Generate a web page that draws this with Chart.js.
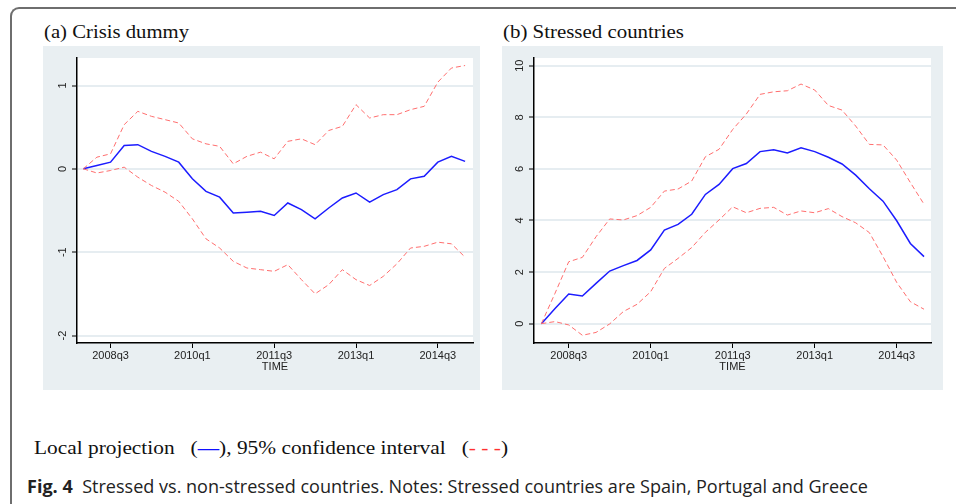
<!DOCTYPE html>
<html>
<head>
<meta charset="utf-8">
<script src="https://cdn.jsdelivr.net/npm/chart.js@4.4.1/dist/chart.umd.min.js"></script>
<style>
  body { margin: 0; width: 956px; height: 504px; background: #fff; position: relative; overflow: hidden; }
  .frame { position: absolute; left: 10px; top: 7px; width: 1000px; height: 600px;
           border-top: 2px solid #6e6e6e; border-left: 2px solid #6e6e6e; border-top-left-radius: 9px; }
  .panel { position: absolute; top: 46px; height: 344px; background: #e9eff2; }
  .panel canvas { display: block; }
  .txt { position: absolute; white-space: pre; transform-origin: left center; color: #111; }
  .serif { font-family: "Liberation Serif", "DejaVu Serif", serif; }
  .title { top: 21px; font-size: 19px; }
  .legend { left: 34px; top: 438px; font-size: 18px; }
  .caption { left: 27px; top: 474px; font-size: 18px; font-family: "Liberation Sans Narrow", "Open Sans", sans-serif; color: #222; }
</style>
</head>
<body>
<div class="frame"></div>

<div class="txt serif title" id="titleA" style="left:44px">(a) Crisis dummy</div>
<div class="txt serif title" id="titleB" style="left:503px">(b) Stressed countries</div>

<div class="panel" style="left:43px;width:437px"><canvas id="chartA" width="437" height="344"></canvas></div>
<div class="panel" style="left:502px;width:441px"><canvas id="chartB" width="441" height="344"></canvas></div>

<div class="txt serif legend" id="legend">Local projection   (<span style="color:#1010ff;font-weight:bold">—</span>), 95% confidence interval   (<span style="color:#ff3030">- - -</span>)</div>
<div class="txt caption" id="caption"><b>Fig. 4</b>  Stressed vs. non-stressed countries. Notes: Stressed countries are Spain, Portugal and Greece</div>

<script>
// 季度标签 2008q1 - 2015q1
const quarters = ['2008q1', '2008q2', '2008q3', '2008q4', '2009q1', '2009q2', '2009q3', '2009q4',
  '2010q1', '2010q2', '2010q3', '2010q4', '2011q1', '2011q2', '2011q3', '2011q4',
  '2012q1', '2012q2', '2012q3', '2012q4', '2013q1', '2013q2', '2013q3', '2013q4',
  '2014q1', '2014q2', '2014q3', '2014q4', '2015q1'];
const tickQuarters = ['2008q3', '2010q1', '2011q3', '2013q1', '2014q3'];

// (a) Crisis dummy
const crisisLP = [0, 0.04, 0.08, 0.28, 0.29, 0.21, 0.15, 0.08, -0.12, -0.27, -0.34, -0.53, -0.52, -0.51, -0.56,
  -0.41, -0.49, -0.60, -0.47, -0.35, -0.29, -0.40, -0.31, -0.25, -0.12, -0.09, 0.08, 0.15, 0.09];
const crisisUpper = [0, 0.14, 0.18, 0.53, 0.69, 0.63, 0.59, 0.55, 0.36, 0.30, 0.27, 0.06, 0.15, 0.20, 0.12,
  0.33, 0.36, 0.29, 0.46, 0.51, 0.77, 0.61, 0.65, 0.65, 0.71, 0.75, 1.04, 1.21, 1.24];
const crisisLower = [0, -0.05, -0.02, 0.02, -0.10, -0.20, -0.28, -0.39, -0.60, -0.84, -0.95, -1.11, -1.19, -1.21, -1.23,
  -1.15, -1.33, -1.50, -1.39, -1.21, -1.33, -1.40, -1.29, -1.14, -0.95, -0.93, -0.88, -0.90, -1.06];
const crisisTicks = [-2, -1, 0, 1];

// (b) Stressed countries
const stressedLP = [0, 0.59, 1.15, 1.07, 1.56, 2.04, 2.25, 2.45, 2.86, 3.63, 3.85, 4.24, 5.01, 5.40, 6.01,
  6.21, 6.67, 6.74, 6.62, 6.82, 6.67, 6.45, 6.19, 5.76, 5.23, 4.75, 3.99, 3.11, 2.60];
const stressedUpper = [0, 1.18, 2.40, 2.57, 3.37, 4.06, 4.02, 4.19, 4.51, 5.14, 5.22, 5.53, 6.47, 6.76, 7.53,
  8.13, 8.89, 8.99, 9.03, 9.29, 9.06, 8.46, 8.28, 7.66, 6.95, 6.93, 6.34, 5.47, 4.63];
const stressedLower = [0, 0.08, -0.05, -0.45, -0.34, -0.01, 0.47, 0.75, 1.24, 2.14, 2.53, 2.95, 3.54, 4.02, 4.53,
  4.30, 4.47, 4.51, 4.21, 4.37, 4.30, 4.46, 4.15, 3.91, 3.53, 2.60, 1.60, 0.85, 0.56];
const stressedTicks = [0, 2, 4, 6, 8, 10];

const tickFont = { family: '"Liberation Sans", Arial, sans-serif', size: 11 };

// 白色绘图区 + 竖排 y 轴刻度
const plotBg = {
  id: 'plotBg',
  beforeDraw(chart) {
    const a = chart.chartArea, ctx = chart.ctx;
    ctx.save();
    ctx.fillStyle = '#ffffff';
    ctx.fillRect(a.left, a.top, a.right - a.left, a.bottom - a.top);
    ctx.restore();
  }
};
const yLabels = {
  id: 'yLabels',
  afterDraw(chart) {
    const s = chart.scales.y, ctx = chart.ctx;
    ctx.save();
    ctx.font = '11px "Liberation Sans", Arial, sans-serif';
    ctx.fillStyle = '#222';
    ctx.textAlign = 'center';
    ctx.textBaseline = 'middle';
    s.ticks.forEach(t => {
      ctx.save();
      ctx.translate(s.right - 14, s.getPixelForValue(t.value));
      ctx.rotate(-Math.PI / 2);
      ctx.fillText(String(t.value), 0, 0);
      ctx.restore();
    });
    ctx.restore();
  }
};

function toPoints(arr) {
  return arr.map((v, i) => ({ x: i, y: v }));
}

function makeChart(id, lp, upper, lower, yTicks, yMin, yMax, xMin, xMax, yWidth, padRight) {
  const ctx = document.getElementById(id).getContext('2d');
  const ci = { borderColor: '#ff6f6f', borderWidth: 1, borderDash: [5, 3], pointRadius: 0, tension: 0, fill: false };
  return new Chart(ctx, {
    type: 'line',
    data: {
      datasets: [
        Object.assign({ label: 'upper', data: toPoints(upper) }, ci),
        Object.assign({ label: 'lower', data: toPoints(lower) }, ci),
        { label: 'Local projection', data: toPoints(lp), borderColor: '#1c1cff', borderWidth: 1.5,
          pointRadius: 0, tension: 0, fill: false }
      ]
    },
    options: {
      responsive: false,
      animation: false,
      layout: { padding: { top: 12, right: padRight, left: 0, bottom: 0 } },
      plugins: { legend: { display: false }, tooltip: { enabled: false } },
      scales: {
        x: {
          type: 'linear',
          min: xMin,
          max: xMax,
          afterBuildTicks: s => { s.ticks = tickQuarters.map(q => ({ value: quarters.indexOf(q) })); },
          afterFit: s => { s.height = 47; },
          ticks: { callback: v => quarters[v], autoSkip: false, maxRotation: 0, padding: 1, color: '#222', font: tickFont },
          grid: { drawOnChartArea: false, tickLength: 5, tickColor: '#000', tickWidth: 1 },
          border: { color: '#000', width: 1.5 },
          title: { display: true, text: 'TIME', color: '#222', font: tickFont, padding: { top: 0, bottom: 16 } }
        },
        y: {
          min: yMin,
          max: yMax,
          afterBuildTicks: s => { s.ticks = yTicks.map(v => ({ value: v })); },
          afterFit: s => { s.width = yWidth; },
          ticks: { display: false },
          grid: { color: '#e6edf1', lineWidth: 2, tickLength: 5, tickColor: '#000', tickWidth: 1 },
          border: { color: '#000', width: 1.5 }
        }
      }
    },
    plugins: [plotBg, yLabels]
  });
}

makeChart('chartA', crisisLP, crisisUpper, crisisLower, crisisTicks, -2.09, 1.33, -0.46, 28.58, 34, 7);
makeChart('chartB', stressedLP, stressedUpper, stressedLower, stressedTicks, -0.75, 10.30, -0.54, 28.51, 32, 12);

// 文字宽度对齐
function fitWidth(id, w) {
  const el = document.getElementById(id);
  el.style.transform = 'scaleX(' + (w / el.getBoundingClientRect().width) + ')';
}
fitWidth('titleA', 145);
fitWidth('titleB', 181);
fitWidth('legend', 474);
fitWidth('caption', 841);
</script>
</body>
</html>
